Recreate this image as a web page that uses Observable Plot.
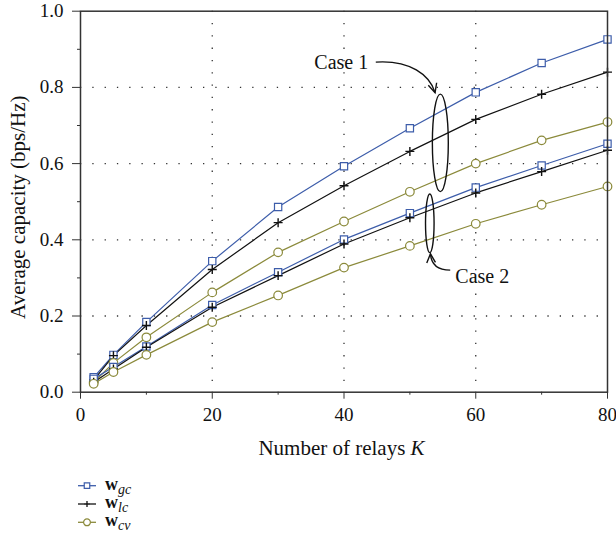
<!DOCTYPE html>
<html><head><meta charset="utf-8">
<script src="https://cdn.jsdelivr.net/npm/d3@7"></script>
<script src="https://cdn.jsdelivr.net/npm/@observablehq/plot@0.6"></script>
<style>
body{margin:0;background:#fff;}
#wrap{position:relative;width:616px;height:559px;overflow:hidden;}
#wrap svg{display:block;}
#legend{position:absolute;left:0;top:470px;}
</style></head><body><div id="wrap"></div>
<script>
// ---- data ----
const K = [2, 5, 10, 20, 30, 40, 50, 60, 70, 80];
const gcCase1 = [0.039, 0.098, 0.184, 0.344, 0.486, 0.593, 0.693, 0.787, 0.864, 0.926];
const lcCase1 = [0.032, 0.096, 0.175, 0.322, 0.445, 0.542, 0.632, 0.716, 0.782, 0.840];
const cvCase1 = [0.026, 0.077, 0.144, 0.262, 0.367, 0.448, 0.526, 0.600, 0.661, 0.709];
const gcCase2 = [0.035, 0.066, 0.120, 0.229, 0.315, 0.401, 0.470, 0.537, 0.595, 0.652];
const lcCase2 = [0.026, 0.061, 0.118, 0.223, 0.306, 0.389, 0.458, 0.523, 0.579, 0.635];
const cvCase2 = [0.022, 0.053, 0.098, 0.184, 0.254, 0.327, 0.384, 0.442, 0.492, 0.540];

const xTicks = [0, 20, 40, 60, 80];
const xMinorTicks = [10, 30, 50, 70];
const yTicks = [0, 0.2, 0.4, 0.6, 0.8, 1.0];
const yMinorTicks = [0.1, 0.3, 0.5, 0.7, 0.9];
const xGrid = [20, 40, 60];
const yGrid = [0.2, 0.4, 0.6, 0.8];

const seriesKeys = ["gc", "lc", "cv"];
const caseLabels = ["Case 1", "Case 2"];
const xLabel = "Number of relays ";
const xLabelVar = "K";
const yLabel = "Average capacity (bps/Hz)";

// annotation anchors (data units)
const labelK = [35.5, 56.9];
const labelV = [0.865, 0.304];
const ellipseK = [54.7, 53.1];
const ellipseV = [0.653, 0.442];
const ellipseRK = [1.21, 0.65];
const ellipseRV = [0.128, 0.077];
// arrows: start, control1, control2, end
const arrow1K = [44.9, 50.1, 53.1, 53.9];
const arrow1V = [0.865, 0.871, 0.831, 0.785];
const arrow2K = [56.2, 54.0, 53.3, 53.2];
const arrow2V = [0.319, 0.319, 0.338, 0.362];

// ---- styling ----
const colors = {gc: "#3d5daa", lc: "#111111", cv: "#8b8a3b"};
const symbols = {gc: "square", lc: "plus", cv: "circle"};
const radii = {gc: 4.1, lc: 3.0, cv: 4.3};
const FONT = '"Liberation Serif", "Times New Roman", serif';

const series = [
  {key: "gc", values: gcCase1}, {key: "lc", values: lcCase1}, {key: "cv", values: cvCase1},
  {key: "gc", values: gcCase2}, {key: "lc", values: lcCase2}, {key: "cv", values: cvCase2}
];

const marks = [];
const gridStyle = {stroke: "#333", strokeOpacity: 1, strokeWidth: 1.3, strokeDasharray: "1.3,11"};
marks.push(Plot.gridX(xGrid, gridStyle));
marks.push(Plot.gridY(yGrid, gridStyle));

for (const s of series) {
  const rows = K.map((k, i) => ({K: k, v: s.values[i]}));
  marks.push(Plot.line(rows, {x: "K", y: "v", stroke: colors[s.key], strokeWidth: 1.2}));
}
for (const s of series) {
  const rows = K.map((k, i) => ({K: k, v: s.values[i]}));
  marks.push(Plot.dot(rows, {
    x: "K", y: "v", symbol: symbols[s.key], r: radii[s.key],
    stroke: colors[s.key], strokeWidth: s.key === "lc" ? 1.4 : 1.2,
    fill: s.key === "lc" ? "none" : "white"
  }));
}

// annotations: ellipses + arrows
function annotations(index, scales, values, dimensions) {
  const {x, y} = scales;
  const g = d3.create("svg:g").attr("fill", "none").attr("stroke", "#111").attr("stroke-width", 1.4);
  for (let i = 0; i < ellipseK.length; i++) {
    const cx = x(ellipseK[i]), cy = y(ellipseV[i]);
    g.append("ellipse").attr("cx", cx).attr("cy", cy)
      .attr("rx", Math.abs(x(ellipseK[i] + ellipseRK[i]) - cx))
      .attr("ry", Math.abs(y(ellipseV[i] + ellipseRV[i]) - cy));
  }
  for (const [ak, av] of [[arrow1K, arrow1V], [arrow2K, arrow2V]]) {
    const p = ak.map((k, i) => [x(k), y(av[i])]);
    g.append("path").attr("d", `M${p[0]}C${p[1]} ${p[2]} ${p[3]}`);
    const ang = Math.atan2(p[3][1] - p[2][1], p[3][0] - p[2][0]);
    const L = 10, h = 0.45;
    const a1 = [p[3][0] - L * Math.cos(ang - h), p[3][1] - L * Math.sin(ang - h)];
    const a2 = [p[3][0] - L * Math.cos(ang + h), p[3][1] - L * Math.sin(ang + h)];
    g.append("path").attr("d", `M${a1}L${p[3]}L${a2}`);
  }
  return g.node();
}
marks.push(annotations);

marks.push(Plot.text(caseLabels, {
  x: (d, i) => labelK[i], y: (d, i) => labelV[i], text: d => d,
  textAnchor: "start", fontSize: 20, fill: "#111", fontFamily: FONT
}));

// axes
marks.push(Plot.axisX(xTicks, {tickSize: 7, tickPadding: 8, label: null, fontSize: 19, fontFamily: FONT, stroke: "#333"}));
marks.push(Plot.axisX(xMinorTicks, {tickSize: 3, tickFormat: () => "", label: null, stroke: "#333"}));
marks.push(Plot.axisY(yTicks, {tickSize: 8, tickPadding: 9, label: null, fontSize: 19, fontFamily: FONT, tickFormat: d3.format(".1f"), stroke: "#333"}));
marks.push(Plot.axisY(yMinorTicks, {tickSize: 3, tickFormat: () => "", label: null, stroke: "#333"}));
marks.push(Plot.frame({stroke: "#333", strokeWidth: 1.5}));

// axis titles
function titles(index, scales, values, dimensions) {
  const {width, height, marginLeft, marginRight, marginTop, marginBottom} = dimensions;
  const g = d3.create("svg:g").attr("font-family", FONT).attr("font-size", 21).attr("fill", "#111");
  const t = g.append("text").attr("x", marginLeft + (width - marginLeft - marginRight) / 2 - 2)
    .attr("y", 455).attr("text-anchor", "middle");
  t.append("tspan").text(xLabel);
  t.append("tspan").attr("font-style", "italic").text(xLabelVar);
  g.append("text").attr("transform", `translate(25,${(marginTop + height - marginBottom) / 2 + 6}) rotate(-90)`)
    .attr("text-anchor", "middle").text(yLabel);
  return g.node();
}
marks.push(titles);

const chart = Plot.plot({
  width: 616, height: 470,
  marginLeft: 80, marginRight: 9, marginTop: 10.7, marginBottom: 78.3,
  x: {domain: [0, 80]},
  y: {domain: [0, 1]},
  style: {fontFamily: FONT, fontSize: "19px", background: "white", color: "#111", overflow: "visible"},
  marks
});
const wrap = document.getElementById("wrap");
wrap.appendChild(chart);

// legend
const leg = d3.select(wrap).append("svg").attr("id", "legend").attr("width", 616).attr("height", 89)
  .style("font-family", FONT).attr("fill", "#111");
const legSymSize = {gc: 3.1, lc: 2.3, cv: 3.4};
seriesKeys.forEach((key, i) => {
  const cy = 15.7 + i * 18.3;
  const g = leg.append("g");
  g.append("line").attr("x1", 78).attr("x2", 96).attr("y1", cy).attr("y2", cy)
    .attr("stroke", colors[key]).attr("stroke-width", 1.3);
  const sym = {square: d3.symbolSquare, plus: d3.symbolPlus, circle: d3.symbolCircle}[symbols[key]];
  if (key === "lc") {
    g.append("line").attr("x1", 84).attr("x2", 90).attr("y1", cy).attr("y2", cy).attr("stroke", "white").attr("stroke-width", 2);
    g.append("path").attr("d", `M84,${cy}H90M87,${cy - 3}V${cy + 3}`).attr("stroke", colors[key]).attr("stroke-width", 1.3).attr("fill", "none");
  } else {
    g.append("path").attr("transform", `translate(87,${cy})`)
      .attr("d", d3.symbol(sym, Math.PI * legSymSize[key] ** 2)())
      .attr("fill", "white").attr("stroke", colors[key]).attr("stroke-width", 1.2);
  }
  const t = g.append("text").attr("x", 105).attr("y", cy + 4);
  t.append("tspan").attr("font-weight", "bold").attr("font-size", 18).text("w");
  t.append("tspan").attr("font-style", "italic").attr("font-size", 14).attr("dy", 4).text(key);
});
</script></body></html>
